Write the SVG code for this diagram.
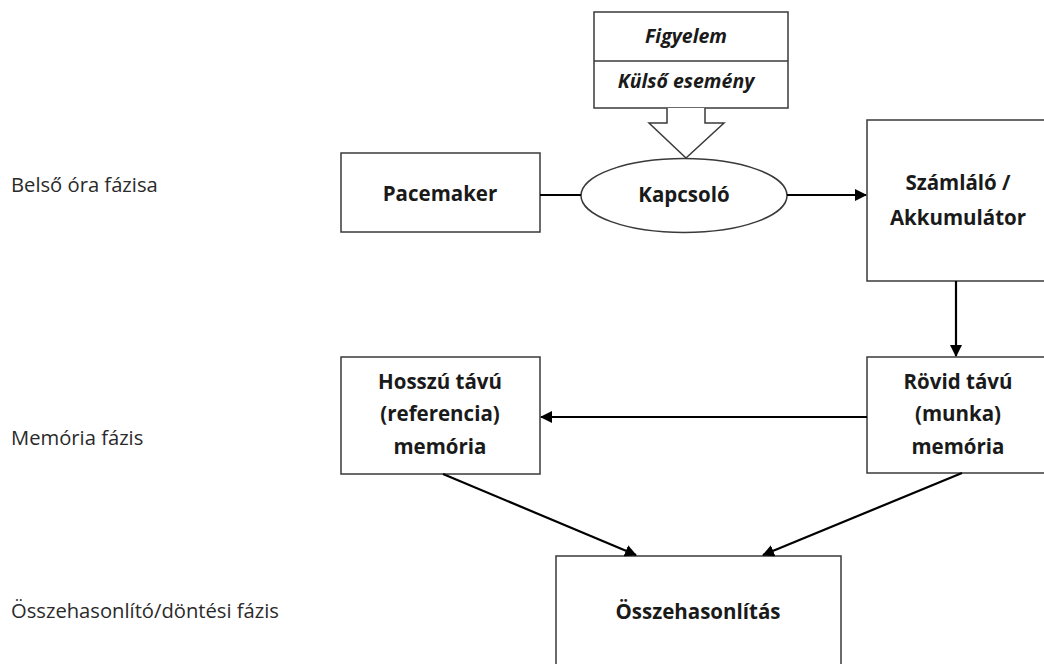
<svg xmlns="http://www.w3.org/2000/svg" width="1044" height="664" viewBox="0 0 1044 664">
<style>
.box{fill:#fff;stroke:#3a3a3a;stroke-width:1.5}
.b{font-family:"Open Sans","Liberation Sans",sans-serif;font-weight:bold;font-size:20.5px;fill:#1a1a1a;text-anchor:middle}
.bi{font-family:"Open Sans","Liberation Sans",sans-serif;font-weight:bold;font-style:italic;font-size:19.5px;fill:#1a1a1a;text-anchor:middle}
.lbl{font-family:"Open Sans","Liberation Sans",sans-serif;font-size:20.2px;fill:#2a2a2a}
.conn{stroke:#000;stroke-width:2.2;fill:none}
</style>
<defs>
<marker id="ah" markerUnits="userSpaceOnUse" markerWidth="12" markerHeight="12" refX="11" refY="6" orient="auto">
<path d="M0,0 L12,6 L0,12 Z" fill="#000"/>
</marker>
</defs>
<rect width="1044" height="664" fill="#fff"/>

<g id="labels">
<text class="lbl" x="11" y="192">Belső óra fázisa</text>
<text class="lbl" x="11" y="445">Memória fázis</text>
<text class="lbl" x="11" y="618">Összehasonlító/döntési fázis</text>
</g>

<g id="figyelem">
<rect class="box" x="594" y="12" width="194" height="96"/>
<line x1="594" y1="61" x2="788" y2="61" stroke="#3a3a3a" stroke-width="1.5"/>
<text class="bi" x="686" y="43">Figyelem</text>
<text class="bi" x="686" y="88">Külső esemény</text>
<path d="M667,108 L667,123 L649,123 L686,158 L724,123 L705,123 L705,108" fill="#fff" stroke="#3a3a3a" stroke-width="1.5"/>
</g>

<g id="pacemaker">
<rect class="box" x="341" y="153" width="199" height="79"/>
<text class="b" x="440" y="201">Pacemaker</text>
</g>

<g id="kapcsolo">
<ellipse class="box" cx="684" cy="195.5" rx="103" ry="37"/>
<text class="b" x="684" y="202">Kapcsoló</text>
</g>

<g id="szamlalo">
<rect class="box" x="867" y="120" width="190" height="161"/>
<text class="b" x="958" y="190">Számláló /</text>
<text class="b" x="958" y="225">Akkumulátor</text>
</g>

<g id="hosszu">
<rect class="box" x="341" y="357" width="199" height="117"/>
<text class="b" x="440" y="389">Hosszú távú</text>
<text class="b" x="440" y="421">(referencia)</text>
<text class="b" x="440" y="454">memória</text>
</g>

<g id="rovid">
<rect class="box" x="867" y="357" width="190" height="116"/>
<text class="b" x="958" y="389">Rövid távú</text>
<text class="b" x="958" y="421">(munka)</text>
<text class="b" x="958" y="454">memória</text>
</g>

<g id="osszehasonlitas">
<rect class="box" x="556" y="556" width="285" height="120"/>
<text class="b" x="698" y="619">Összehasonlítás</text>
</g>

<g id="connectors">
<line class="conn" x1="540" y1="195" x2="581" y2="195"/>
<line class="conn" x1="787" y1="195" x2="866" y2="195" marker-end="url(#ah)"/>
<line class="conn" x1="956" y1="281" x2="956" y2="356" marker-end="url(#ah)"/>
<line class="conn" x1="867" y1="417" x2="541" y2="417" marker-end="url(#ah)"/>
<line class="conn" x1="443" y1="474" x2="636" y2="555" marker-end="url(#ah)"/>
<line class="conn" x1="962" y1="473" x2="763" y2="555" marker-end="url(#ah)"/>
</g>
</svg>
